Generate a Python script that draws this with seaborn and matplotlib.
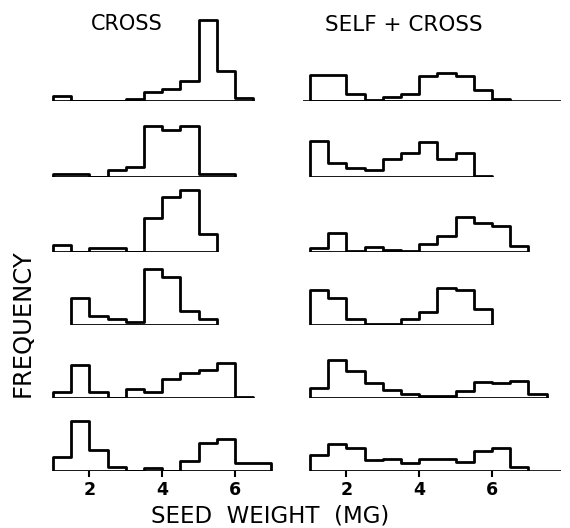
import numpy as np
import pandas as pd
import matplotlib
matplotlib.use("Agg")
import matplotlib.pyplot as plt
import seaborn as sns

# ==========================================
# DATA (seed weight classes of 0.5 mg, frequency)
# ==========================================

bin_width = 0.5

cross_start = [1.0, 1.0, 1.0, 1.5, 1.0, 1.0]
cross_row1 = [5, 0, 0, 0, 2, 9, 12, 20, 81, 30, 3]
cross_row2 = [3, 3, 0, 7, 10, 51, 47, 51, 3, 3]
cross_row3 = [7, 0, 4, 4, 0, 34, 55, 62, 18]
cross_row4 = [27, 9, 6, 3, 56, 48, 14, 6]
cross_row5 = [6, 33, 6, 0, 9, 6, 19, 25, 28, 35, 1.5]
cross_row6 = [14, 50, 21, 4, 0, 3, 0, 10, 28, 32, 8, 8]

self_start = [1.0, 1.0, 1.0, 1.0, 1.0, 1.0]
self_row1 = [26, 26, 7, 1, 4, 7, 25, 28, 25, 11, 2]
self_row2 = [36, 14, 9, 7, 18, 24, 35, 18, 24, 1]
self_row3 = [4, 19, 1, 5, 2, 1, 8, 16, 35, 29, 26, 6]
self_row4 = [35, 27, 6, 1, 1, 6, 13, 37, 35, 16]
self_row5 = [10, 38, 27, 15, 8, 4, 2, 2, 7, 16, 15, 17, 4]
self_row6 = [16, 27, 23, 11, 12, 8, 12, 12, 9, 20, 23, 4]

cross_rows = [cross_row1, cross_row2, cross_row3, cross_row4, cross_row5, cross_row6]
self_rows = [self_row1, self_row2, self_row3, self_row4, self_row5, self_row6]

xticks = [2, 4, 6]
col_titles = ["CROSS", "SELF + CROSS"]

# ==========================================
# LAYOUT (pixels)
# ==========================================

W, H = 570, 528
sns.set_theme(style="ticks")
plt.rcParams["font.family"] = ["DejaVu Sans"]
plt.rcParams["text.color"] = "black"
plt.rcParams["xtick.color"] = "black"

fig = plt.figure(figsize=(W / 100, H / 100), dpi=100)

baselines = [101, 177, 252, 325, 398, 471]
px_per_mg = 36.4
ax_h = 85
cols = [
    {"x1px": 53, "xlim": (0.8, 7.3), "start": cross_start, "rows": cross_rows},
    {"x1px": 310, "xlim": (0.8, 8.0), "start": self_start, "rows": self_rows},
]


def add_hist(ax, start, heights):
    n = len(heights)
    df = pd.DataFrame({
        "weight_mg": start + bin_width * (np.arange(n) + 0.5),
        "freq": heights,
    })
    sns.histplot(data=df, x="weight_mg", weights="freq", binwidth=bin_width,
                 binrange=(start, start + n * bin_width), element="step",
                 fill=True, color="black", facecolor="none", edgecolor="black",
                 linewidth=2.0, ax=ax)


for c, col in enumerate(cols):
    xmin, xmax = col["xlim"]
    left_px = col["x1px"] - (1.0 - xmin) * px_per_mg
    width_px = (xmax - xmin) * px_per_mg
    for r, heights in enumerate(col["rows"]):
        b = baselines[r]
        ax = fig.add_axes([left_px / W, 1 - b / H, width_px / W, ax_h / H])
        ax.patch.set_alpha(0)
        add_hist(ax, col["start"][r], heights)
        ax.set_xlim(xmin, xmax)
        ax.set_ylim(0, ax_h)
        ax.set_xlabel("")
        ax.set_ylabel("")
        ax.set_yticks([])
        for s in ax.spines.values():
            s.set_visible(False)
        if c == 1 and r == 0:
            ax.hlines(0, 0.8, 7.9, color="black", linewidth=1.2)
        if c == 1 and r == 5:
            ax.hlines(0, 7.0, 7.9, color="black", linewidth=1.2)
        if r == 5:
            ax.set_xticks(xticks)
            ax.set_xticklabels([str(t) for t in xticks], fontsize=12.5,
                               fontweight="bold")
            ax.tick_params(axis="x", direction="out", length=4, width=1.5,
                           bottom=True, top=False, color="black", pad=3)
        else:
            ax.set_xticks([])

# ==========================================
# TEXT
# ==========================================

fig.text(127 / W, 1 - 24 / H, col_titles[0], ha="center", va="center", fontsize=15)
fig.text(404 / W, 1 - 25 / H, col_titles[1], ha="center", va="center", fontsize=15.5)
fig.text(23 / W, 1 - 323 / H, "FREQUENCY", ha="center", va="center",
         rotation=90, fontsize=17.5)
fig.text(270 / W, 1 - 516 / H, "SEED  WEIGHT  (MG)", ha="center", va="center",
         fontsize=16.5)

fig.savefig("out.png", dpi=100)
